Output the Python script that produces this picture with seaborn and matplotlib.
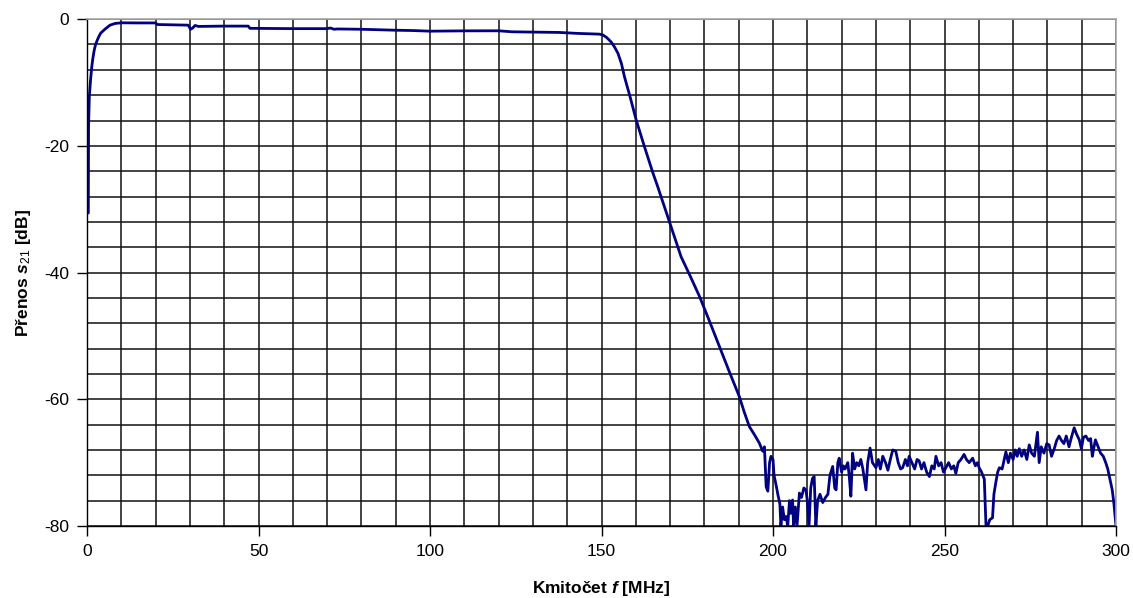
import matplotlib
matplotlib.use("Agg")
import matplotlib.pyplot as plt
import seaborn as sns
from matplotlib.ticker import MultipleLocator

# ---- data ----
freq_mhz = [
    0.0, 0.38, 0.45, 0.67, 1.0, 1.37, 1.7, 2.1, 2.5, 3.0, 3.5, 4.0, 5.2, 6.7, 8.2, 10.1,
    15, 20, 20.5, 25, 29.5, 30.2, 30.8, 31.5, 32.5, 40, 47, 47.5, 60, 70, 71, 72, 73,
    80, 90, 95, 100, 110, 120, 124, 130, 137.7, 143, 149.4,
    150.4, 151.5, 152.8, 153.8, 154.8, 155.8, 156.7, 158.4, 160.1, 161.3, 162.5, 163.7,
    165.0, 166.3, 167.6, 169.8, 171.5, 173.2, 175.9, 178.6, 181.5, 184.4, 187.3, 190.2,
    191.6, 193.1, 194.6, 196.0, 197.0,
    197.5, 198.0, 198.5, 199.0, 199.4, 200.0, 200.3, 201.0, 201.4, 202.0, 202.3, 202.8,
    203.3, 203.8, 204.3, 204.8, 205.2, 205.7, 206.0, 206.5, 207.0, 207.7, 208.3, 209.0,
    209.6, 210.0, 210.5, 211.0, 211.5, 212.0, 212.5, 213.0, 213.7, 214.5, 215.3, 216.0,
    216.6, 217.4, 218.0, 218.4, 218.9, 219.3, 220.0, 220.5, 221.0, 221.8, 222.2, 222.7,
    223.2, 223.8, 224.4, 225.0, 225.6, 226.2, 227.1, 227.6, 228.3, 229.0, 230.0, 230.7,
    231.3, 232.0, 232.8, 233.5, 234.2, 234.9, 235.8, 236.5, 237.2, 237.8, 238.6, 239.2,
    239.7, 240.5, 241.3, 242.0, 242.6, 243.3, 244.0, 244.8, 245.6, 246.3, 247.0, 247.5,
    248.3, 249.0, 249.7, 250.4, 251.2, 252.0, 252.7, 253.3, 254.0, 254.8, 255.7, 256.4,
    257.2, 258.2, 259.0, 259.6, 260.1, 260.8, 261.6, 262.1, 262.6, 263.2, 264.0, 264.4,
    265.0, 265.5, 266.0, 266.8, 267.4, 267.9, 268.6, 269.2, 270.0, 270.6, 271.2, 271.8,
    272.5, 273.2, 274.0, 274.7, 275.4, 276.2, 277.1, 277.6, 278.2, 279.0, 279.8, 280.5,
    281.2, 282.0, 282.7, 283.4, 284.1, 284.8, 285.5, 286.3, 287.0, 287.8, 288.5, 289.3,
    289.9, 290.5, 291.2, 292.0, 292.6, 293.1, 293.6, 294.0, 294.8, 295.5, 296.3, 297.0,
    297.6, 298.2, 298.9, 299.4, 300.0,
]
s21_db = [
    -30.6, -30.6, -17.0, -12.3, -9.8, -7.6, -6.2, -4.9, -4.0, -3.3, -2.7, -2.2, -1.6, -0.95, -0.68, -0.58,
    -0.6, -0.6, -0.85, -0.9, -0.95, -1.6, -1.4, -1.0, -1.15, -1.1, -1.1, -1.45, -1.5, -1.5, -1.4, -1.6, -1.55,
    -1.6, -1.75, -1.8, -1.9, -1.85, -1.84, -2.0, -2.05, -2.1, -2.25, -2.37,
    -2.5, -2.9, -3.6, -4.4, -5.4, -7.0, -9.1, -12.4, -15.9, -18.0, -20.1, -22.1,
    -24.3, -26.3, -28.4, -32.0, -34.7, -37.5, -40.6, -43.8, -47.7, -51.7, -55.7, -59.6,
    -62.0, -64.3, -65.6, -66.9, -68.2,
    -67.5, -73.8, -74.5, -70.0, -69.0, -69.5, -72.0, -73.8, -75.0, -76.5, -80.0, -77.0,
    -79.0, -78.5, -80.0, -76.0, -78.0, -75.9, -80.0, -77.0, -80.0, -74.8, -75.5, -74.0,
    -74.3, -76.0, -80.0, -74.0, -72.5, -72.2, -80.0, -76.0, -75.0, -76.3, -75.5, -75.0,
    -72.0, -70.6, -74.0, -74.3, -70.0, -69.3, -71.5, -70.5, -71.0, -70.0, -72.0, -75.3,
    -68.5, -71.0, -70.0, -70.5, -69.5, -71.0, -74.3, -70.0, -67.7, -70.0, -70.8, -69.5,
    -71.0, -69.0, -70.0, -71.2, -69.5, -68.0, -68.2, -70.0, -71.0, -70.8, -69.5, -70.5,
    -69.0, -70.0, -71.0, -69.5, -69.7, -71.0, -70.0, -71.5, -72.2, -70.5, -71.0, -69.0,
    -70.5, -70.0, -71.5, -70.8, -70.0, -71.0, -70.5, -71.7, -70.0, -69.5, -68.7, -69.5,
    -70.0, -69.3, -70.5, -70.0, -70.8, -71.5, -72.6, -80.0, -80.0, -79.0, -78.7, -75.0,
    -73.0, -71.5, -70.8, -71.0, -69.5, -68.3, -70.0, -68.5, -69.5, -68.0, -69.0, -67.8,
    -69.0, -68.0, -69.5, -67.2, -68.5, -69.0, -65.2, -70.0, -67.5, -68.5, -67.0, -67.2,
    -69.0, -67.8, -66.5, -65.8, -66.5, -67.0, -65.8, -67.5, -66.0, -64.5, -65.5, -66.4,
    -67.8, -66.0, -65.8, -66.5, -66.2, -69.0, -67.5, -66.4, -67.5, -68.5, -69.0, -70.0,
    -71.0, -72.5, -74.3, -76.5, -80.0,
]
x_major_ticks = [0, 50, 100, 150, 200, 250, 300]
y_major_ticks = [-80, -60, -40, -20, 0]

# ---- style ----
sns.set_style("white")
plt.rcParams["font.family"] = ["Liberation Sans", "DejaVu Sans"]
plt.rcParams["axes.unicode_minus"] = False
plt.rcParams["text.color"] = "black"
plt.rcParams["axes.labelcolor"] = "black"
plt.rcParams["xtick.color"] = "black"
plt.rcParams["ytick.color"] = "black"
plt.rcParams["mathtext.fontset"] = "custom"
plt.rcParams["mathtext.it"] = "Liberation Sans:italic:bold"
plt.rcParams["mathtext.rm"] = "Liberation Sans"
plt.rcParams["mathtext.bf"] = "Liberation Sans:bold"

fig = plt.figure(figsize=(11.33, 5.98), dpi=100)
ax = fig.add_axes([0.0768, 0.1204, 0.985 - 0.0768, 0.968 - 0.1204])

sns.lineplot(x=freq_mhz, y=s21_db, ax=ax, color="#000080", lw=2.0,
             estimator=None, sort=False)

ax.set_xlim(0, 300)
ax.set_ylim(-80, 0)
ax.xaxis.set_minor_locator(MultipleLocator(10))
ax.yaxis.set_minor_locator(MultipleLocator(4))
ax.set_xticks(x_major_ticks)
ax.set_yticks(y_major_ticks)
ax.grid(True, which="both", color="#111111", lw=1.1)
ax.set_axisbelow(True)

ax.tick_params(which="major", direction="out", length=7, width=1.0, color="black",
               labelcolor="black", labelsize=12.5, pad=6, bottom=True, left=True)
ax.tick_params(which="minor", length=0)

for side in ["left", "bottom"]:
    ax.spines[side].set_color("black")
    ax.spines[side].set_linewidth(1.0)
for side in ["top", "right"]:
    ax.spines[side].set_color("#a8a8a8")
    ax.spines[side].set_linewidth(1.2)

ax.set_xlabel(r"Kmitočet $f$ [MHz]", fontsize=12.5, fontweight="bold",
              color="black", labelpad=14)
ax.set_ylabel(r"Přenos $s_{21}$ [dB]", fontsize=12.5, fontweight="bold",
              color="black", labelpad=8)

fig.savefig("out.png", dpi=100, facecolor="white")
